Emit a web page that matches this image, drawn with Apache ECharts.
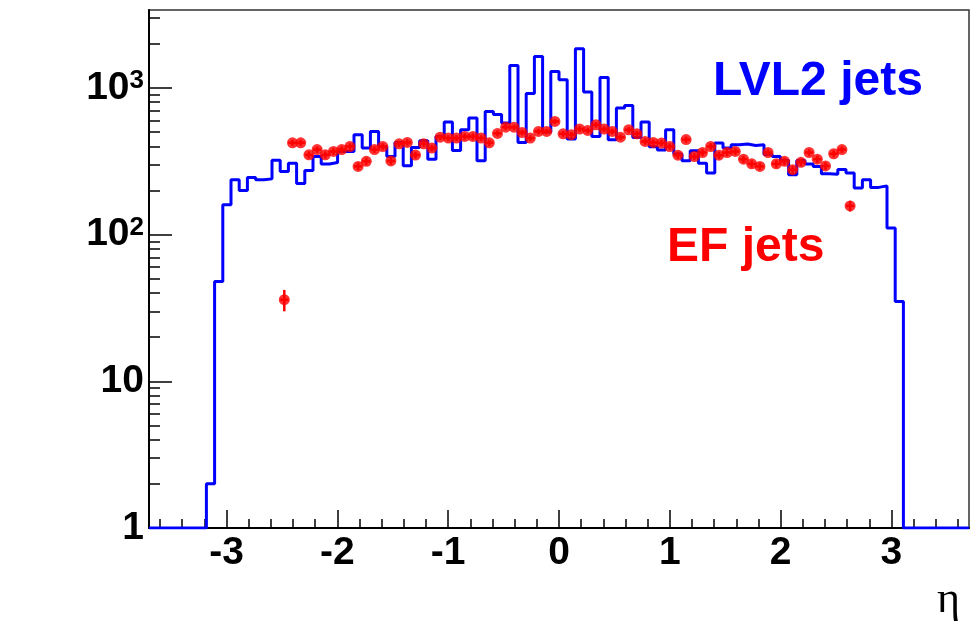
<!DOCTYPE html>
<html>
<head>
<meta charset="utf-8">
<script src="https://cdn.jsdelivr.net/npm/echarts@6/dist/echarts.min.js"></script>
<style>
html, body { margin: 0; padding: 0; background: #fff; }
#chart { width: 972px; height: 628px; }
</style>
</head>
<body>
<div id="chart"></div>
<script>
// eta binning: 100 bins on [-3.7, 3.7]
const etaMin = -3.7
const etaMax = 3.7
const binWidth = 0.074

// LVL2 jets, entries per bin (bin 0 .. 99)
const lvl2Counts = [
  1, 1, 1, 1, 1, 1, 1, 2, 48, 160,
  237, 200, 245, 237, 240, 322, 269, 307, 223, 274,
  341, 303, 310, 369, 369, 480, 390, 505, 399, 341,
  425, 295, 392, 437, 327, 467, 585, 375, 519, 623,
  319, 692, 660, 577, 1425, 425, 918, 1640, 500, 1297,
  1138, 448, 1850, 937, 467, 1180, 443, 730, 760, 460,
  585, 398, 377, 519, 355, 319, 373, 307, 263, 421,
  390, 410, 415, 405, 410, 352, 341, 320, 256, 320,
  303, 292, 260, 258, 278, 263, 208, 237, 210, 215,
  111, 35, 1, 1, 1, 1, 1, 1, 1, 1
]

// EF jets, filled bins 16 .. 85
const efFirstBin = 16
const efCounts = [
  36, 423, 423, 350, 380, 350, 369, 380, 399, 292,
  316, 380, 399, 318, 416, 425, 349, 416, 389, 462,
  455, 455, 467, 467, 455, 423, 490, 540, 540, 497,
  455, 505, 505, 591, 487, 480, 525, 513, 561, 525,
  505, 462, 519, 487, 432, 425, 421, 399, 348, 445,
  341, 363, 399, 348, 363, 369, 327, 304, 292, 363,
  304, 316, 277, 311, 363, 327, 294, 356, 380, 157
]
const efErr = [
  6, 20, 20, 19, 19, 19, 19, 19, 20, 17,
  18, 19, 20, 18, 20, 21, 19, 20, 20, 21,
  21, 21, 22, 22, 21, 21, 22, 23, 23, 22,
  21, 22, 22, 24, 22, 22, 23, 23, 24, 23,
  22, 21, 23, 22, 21, 21, 21, 20, 19, 21,
  18, 19, 20, 19, 19, 19, 18, 17, 17, 19,
  17, 18, 17, 18, 19, 18, 17, 19, 19, 13
]

const xMajorTicks = [-3, -2, -1, 0, 1, 2, 3]
const xMinorTicks = [-3.6, -3.4, -3.2, -2.8, -2.6, -2.4, -2.2, -1.8, -1.6, -1.4, -1.2,
  -0.8, -0.6, -0.4, -0.2, 0.2, 0.4, 0.6, 0.8, 1.2, 1.4, 1.6, 1.8,
  2.2, 2.4, 2.6, 2.8, 3.2, 3.4, 3.6]
const yMajorTicks = [1, 10, 100, 1000]
const yTickLabels = ['{b|1}', '{b|10}', '{b|10}{s|2}', '{b|10}{s|3}']
const yMinorTicks = [2, 3, 4, 5, 6, 7, 8, 9, 20, 30, 40, 50, 60, 70, 80, 90,
  200, 300, 400, 500, 600, 700, 800, 900, 2000, 3000]
const yMin = 1
const yMax = 3400

const lvl2Step = lvl2Counts.map((v, i) => [etaMin + i * binWidth, v])
lvl2Step.push([etaMax, lvl2Counts[lvl2Counts.length - 1]])

const efPoints = efCounts.map((v, i) => [etaMin + (efFirstBin + i + 0.5) * binWidth, v, efErr[i]])

const font = '"Liberation Sans", Arial, sans-serif'

const chart = echarts.init(document.getElementById('chart'))
chart.setOption({
  animation: false,
  backgroundColor: '#fff',
  grid: {
    left: 149, right: 3, top: 10, bottom: 100,
    show: true, borderColor: '#333', borderWidth: 1.5
  },
  xAxis: [
    {
      type: 'value', min: etaMin, max: etaMax, position: 'bottom',
      axisLine: { onZero: false, lineStyle: { color: '#000', width: 2 } },
      axisTick: { inside: true, length: 18, customValues: xMajorTicks, lineStyle: { color: '#000', width: 1.5 } },
      axisLabel: {
        customValues: xMajorTicks, margin: 6, color: '#000',
        fontSize: 39, fontWeight: 'bold', fontFamily: font
      },
      splitLine: { show: false }
    },
    {
      type: 'value', min: etaMin, max: etaMax, position: 'bottom',
      axisLine: { show: false, onZero: false },
      axisTick: { inside: true, length: 9, customValues: xMinorTicks, lineStyle: { color: '#000', width: 1.5 } },
      axisLabel: { show: false },
      splitLine: { show: false }
    }
  ],
  yAxis: [
    {
      type: 'log', logBase: 10, min: yMin, max: yMax, position: 'left',
      axisLine: { show: true, onZero: false, lineStyle: { color: '#000', width: 2 } },
      axisTick: { show: true, inside: true, length: 23, customValues: yMajorTicks, lineStyle: { color: '#000', width: 1.5 } },
      axisLabel: {
        customValues: yMajorTicks, margin: 5,
        formatter: v => yTickLabels[yMajorTicks.indexOf(v)],
        rich: {
          b: { fontSize: 39, fontWeight: 'bold', color: '#000', fontFamily: font, lineHeight: 40 },
          s: { fontSize: 26, fontWeight: 'bold', color: '#000', fontFamily: font, verticalAlign: 'top', lineHeight: 22 }
        }
      },
      splitLine: { show: false }
    },
    {
      type: 'log', logBase: 10, min: yMin, max: yMax, position: 'left',
      axisLine: { show: false, onZero: false },
      axisTick: { show: true, inside: true, length: 11, customValues: yMinorTicks, lineStyle: { color: '#000', width: 1.5 } },
      axisLabel: { show: false },
      splitLine: { show: false }
    }
  ],
  series: [
    {
      name: 'LVL2 jets',
      type: 'line',
      step: 'end',
      data: lvl2Step,
      symbol: 'none',
      lineStyle: { color: '#0000ff', width: 3 },
      z: 2
    },
    {
      name: 'EF jets errors',
      type: 'custom',
      data: efPoints,
      encode: { x: 0, y: 1 },
      renderItem: (params, api) => {
        const x = api.value(0), y = api.value(1), e = api.value(2)
        const top = api.coord([x, y + e])
        const bot = api.coord([x, y - e])
        const l = api.coord([x - binWidth / 2, y])
        const r = api.coord([x + binWidth / 2, y])
        return {
          type: 'group',
          children: [
            { type: 'line', shape: { x1: top[0], y1: top[1], x2: bot[0], y2: bot[1] }, style: { stroke: '#ff0000', lineWidth: 2.5 } },
            { type: 'line', shape: { x1: l[0], y1: l[1], x2: r[0], y2: r[1] }, style: { stroke: '#ff0000', lineWidth: 2.5 } }
          ]
        }
      },
      z: 3
    },
    {
      name: 'EF jets',
      type: 'scatter',
      data: efPoints.map(p => [p[0], p[1]]),
      symbol: 'circle',
      symbolSize: 11,
      itemStyle: { color: '#ff0000' },
      z: 4
    }
  ],
  graphic: [
    { type: 'text', left: 713, top: 58, style: { text: 'LVL2 jets', fill: '#0000ff', font: 'bold 48px ' + font } },
    { type: 'text', left: 667, top: 224, style: { text: 'EF jets', fill: '#ff0000', font: 'bold 48px ' + font } },
    { type: 'text', left: 937, top: 578, style: { text: 'η', fill: '#000', font: '44px "Liberation Serif", serif' } }
  ]
})
</script>
</body>
</html>
